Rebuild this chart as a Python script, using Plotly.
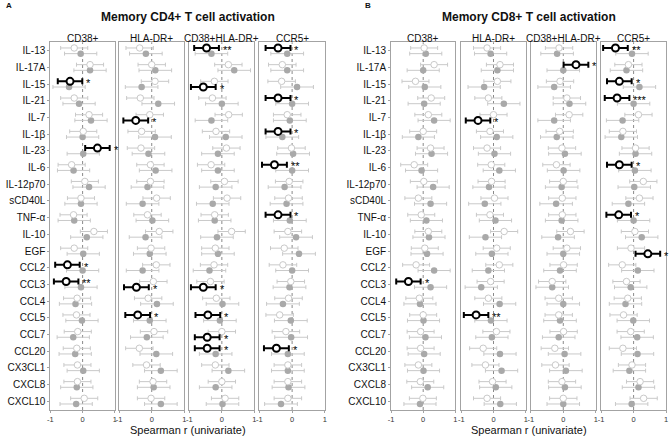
import plotly.graph_objects as go

W, H = 669, 437

cytokines = ["IL-13", "IL-17A", "IL-15", "IL-21", "IL-7", "IL-1β", "IL-23", "IL-6", "IL-12p70",
             "sCD40L", "TNF-α", "IL-10", "EGF", "CCL2", "CCL3", "CCL4", "CCL5", "CCL7", "CCL20",
             "CX3CL1", "CXCL8", "CXCL10"]
columns = ["CD38+", "HLA-DR+", "CD38+HLA-DR+", "CCR5+"]
panel_titles = ["Memory CD4+ T cell activation", "Memory CD8+ T cell activation"]
panel_letters = ["A", "B"]
x_title = "Spearman r (univariate)"

# Panel A (CD4+) : open = first series, filled = second series
A_CD38_open = [-0.26, 0.23, -0.39, -0.26, 0.20, 0.02, 0.46, -0.34, 0.07, -0.05, -0.28, 0.35, -0.26, -0.47, -0.51, -0.17, -0.19, -0.15, -0.18, -0.16, -0.16, 0.05]
A_CD38_filled = [-0.06, 0.23, -0.42, -0.11, 0.26, 0.00, 0.02, -0.28, 0.20, -0.05, -0.26, 0.13, 0.02, 0.00, -0.05, -0.22, -0.02, -0.29, -0.23, 0.02, -0.18, -0.20]
A_HLA_open = [-0.37, 0.00, 0.10, -0.35, -0.06, -0.31, -0.33, -0.04, -0.04, 0.15, -0.13, 0.23, -0.02, 0.14, 0.05, -0.11, -0.43, 0.07, -0.38, -0.16, 0.04, -0.02]
A_HLA_filled = [-0.18, 0.11, -0.31, 0.20, -0.49, 0.10, -0.10, 0.12, -0.13, -0.28, 0.02, -0.19, -0.06, -0.28, -0.47, 0.16, -0.06, -0.15, 0.14, 0.28, 0.06, 0.28]
A_DP_open = [-0.47, 0.20, -0.23, -0.29, 0.21, -0.18, 0.14, -0.33, 0.08, 0.16, -0.22, 0.30, -0.20, -0.24, -0.35, -0.17, -0.43, 0.00, -0.45, -0.20, 0.00, 0.10]
A_DP_filled = [-0.32, 0.38, -0.57, 0.00, -0.32, 0.12, -0.12, -0.12, -0.19, -0.28, -0.22, -0.15, -0.12, -0.38, -0.57, 0.02, -0.06, -0.45, -0.19, 0.20, -0.19, 0.02]
A_CCR5_open = [-0.43, -0.30, -0.32, -0.43, -0.15, -0.43, -0.02, -0.54, -0.09, -0.11, -0.43, -0.13, -0.24, -0.28, -0.04, -0.11, -0.38, -0.19, -0.48, -0.13, -0.13, -0.13]
A_CCR5_filled = [-0.15, -0.15, 0.15, 0.00, -0.07, -0.30, 0.03, 0.00, -0.23, -0.17, -0.07, 0.12, 0.21, 0.00, -0.08, -0.28, -0.04, -0.03, -0.13, -0.13, -0.11, -0.34]

# Panel B (CD8+)
B_CD38_open = [0.03, 0.34, -0.24, 0.25, 0.16, 0.00, 0.23, -0.28, 0.02, -0.15, -0.06, 0.16, 0.05, -0.22, -0.46, -0.12, 0.00, -0.08, -0.08, -0.15, -0.09, -0.01]
B_CD38_filled = [0.08, 0.00, 0.05, 0.03, 0.34, -0.15, 0.26, -0.05, 0.31, 0.23, 0.10, 0.18, 0.12, 0.34, 0.23, -0.10, 0.01, 0.07, 0.03, 0.01, 0.14, -0.10]
B_HLA_open = [-0.20, 0.20, 0.12, -0.16, 0.00, -0.11, -0.20, -0.07, -0.06, 0.03, -0.11, 0.33, 0.10, 0.18, -0.09, -0.16, -0.54, 0.09, -0.32, -0.25, -0.03, -0.20]
B_HLA_filled = [-0.09, 0.12, -0.29, 0.32, -0.48, 0.10, 0.03, 0.18, -0.14, -0.27, 0.06, -0.25, -0.05, -0.16, -0.38, 0.19, -0.08, -0.05, 0.20, 0.25, 0.07, 0.21]
B_DP_open = [-0.13, 0.39, -0.10, 0.11, 0.18, -0.11, -0.04, -0.21, 0.00, -0.03, -0.03, 0.22, 0.11, 0.01, -0.34, -0.14, -0.14, 0.01, -0.26, -0.24, -0.04, 0.00]
B_DP_filled = [-0.19, 0.00, -0.28, 0.19, -0.28, -0.20, 0.05, 0.01, -0.05, -0.22, -0.05, -0.16, 0.00, -0.10, -0.34, 0.00, -0.10, -0.14, 0.04, 0.08, 0.05, 0.00]
B_CCR5_open = [-0.56, -0.16, -0.44, -0.51, 0.15, -0.33, 0.06, -0.44, 0.30, 0.18, -0.46, 0.04, -0.08, -0.35, -0.22, -0.18, -0.31, -0.09, -0.33, -0.05, 0.20, 0.31]
B_CCR5_filled = [-0.05, -0.22, 0.18, 0.00, -0.34, -0.38, 0.06, 0.04, 0.02, -0.16, 0.00, 0.25, 0.44, 0.13, -0.09, -0.25, -0.01, 0.11, 0.12, -0.13, 0.15, -0.06]

# 95% CI half-widths (approximate)
ERR_OPEN = 0.42
ERR_FILLED = 0.50
ERR_BOLD = 0.38

# significant results: (cytokine, series, stars)
A_sig = [
    [("IL-15", "o", "*"), ("IL-23", "o", "*"), ("CCL2", "o", "*"), ("CCL3", "o", "**")],
    [("IL-7", "f", "*"), ("CCL3", "f", "*"), ("CCL5", "o", "*")],
    [("IL-13", "o", "**"), ("IL-15", "f", "*"), ("CCL3", "f", "*"), ("CCL5", "o", "*"),
     ("CCL7", "f", "*"), ("CCL20", "o", "*")],
    [("IL-13", "o", "*"), ("IL-21", "o", "*"), ("IL-1β", "o", "*"), ("IL-6", "o", "**"),
     ("TNF-α", "o", "*"), ("CCL20", "o", "*")],
]
B_sig = [
    [("CCL3", "o", "*")],
    [("IL-7", "f", "*"), ("CCL5", "o", "**")],
    [("IL-17A", "o", "*")],
    [("IL-13", "o", "**"), ("IL-15", "o", "*"), ("IL-21", "o", "***"), ("IL-6", "o", "*"),
     ("TNF-α", "o", "*"), ("EGF", "f", "*")],
]

data = [
    [(A_CD38_open, A_CD38_filled), (A_HLA_open, A_HLA_filled), (A_DP_open, A_DP_filled), (A_CCR5_open, A_CCR5_filled)],
    [(B_CD38_open, B_CD38_filled), (B_HLA_open, B_HLA_filled), (B_DP_open, B_DP_filled), (B_CCR5_open, B_CCR5_filled)],
]
sigs = [A_sig, B_sig]

# layout geometry (pixels)
x_boxes = [
    [(47.7, 112.7), (117.0, 182.7), (187.7, 253.3), (258.3, 324.3)],
    [(391.0, 455.7), (461.7, 526.7), (531.7, 597.3), (602.7, 668.0)],
]
y_top, y_bot = 42.3, 410.0
ydom = [1 - y_bot / H, 1 - y_top / H]
OFF = 0.17

LIGHT = "#c9c9c9"
FILL = "#a9a9a9"
FONT = "Liberation Sans, Arial, sans-serif"

fig = go.Figure()
layout = {}
annotations = []
shapes = []
ypos = list(range(len(cytokines)))

k = 0
for p in range(2):
    for c in range(4):
        k += 1
        xa = "x" if k == 1 else f"x{k}"
        ya = "y" if k == 1 else f"y{k}"
        open_v, fill_v = data[p][c]
        sig = sigs[p][c]
        sig_map = {(name, s): st for name, s, st in sig}
        o_x = [None if (cytokines[i], "o") in sig_map else v for i, v in enumerate(open_v)]
        f_x = [None if (cytokines[i], "f") in sig_map else v for i, v in enumerate(fill_v)]
        yo = [i - OFF for i in ypos]
        yf = [i + OFF for i in ypos]
        fig.add_trace(go.Scatter(
            x=f_x, y=yf, mode="markers", xaxis=xa, yaxis=ya, showlegend=False,
            marker=dict(size=6.5, color=FILL, line=dict(width=0)),
            error_x=dict(type="constant", value=ERR_FILLED, color=LIGHT, thickness=1, width=2)))
        fig.add_trace(go.Scatter(
            x=o_x, y=yo, mode="markers", xaxis=xa, yaxis=ya, showlegend=False,
            marker=dict(size=6.5, color="white", line=dict(width=1, color=LIGHT)),
            error_x=dict(type="constant", value=ERR_OPEN, color=LIGHT, thickness=1, width=2)))
        bx, by = [], []
        for name, s, st in sig:
            i = cytokines.index(name)
            val = open_v[i] if s == "o" else fill_v[i]
            yy = i - OFF if s == "o" else i + OFF
            bx.append(val)
            by.append(yy)
            annotations.append(dict(x=min(val + ERR_BOLD + 0.06, 0.9), y=yy + 0.1, xref=xa, yref=ya, text=st,
                                    showarrow=False, xanchor="left", yanchor="middle",
                                    font=dict(size=11, color="black", family=FONT)))
        fig.add_trace(go.Scatter(
            x=bx, y=by, mode="markers", xaxis=xa, yaxis=ya, showlegend=False,
            marker=dict(size=7, color="white", line=dict(width=2, color="black")),
            error_x=dict(type="constant", value=ERR_BOLD, color="black", thickness=2, width=3)))

        x0, x1 = x_boxes[p][c]
        layout["xaxis" if k == 1 else f"xaxis{k}"] = dict(
            domain=[x0 / W, x1 / W], anchor=ya, range=[-1, 1], tickvals=[-1, 0, 1],
            ticktext=["-1", "0", "1"], showgrid=False, zeroline=False, showline=True,
            mirror=True, linecolor="#a3a3a3", linewidth=1, ticks="outside", ticklen=2,
            tickcolor="#a3a3a3", tickfont=dict(size=7.5, color="#333", family=FONT))
        layout["yaxis" if k == 1 else f"yaxis{k}"] = dict(
            domain=ydom, anchor=xa, range=[len(cytokines) - 0.47, -0.51], tickvals=ypos,
            ticktext=cytokines, showticklabels=(c == 0), showgrid=False, zeroline=False,
            showline=True, mirror=True, linecolor="#a3a3a3", linewidth=1,
            ticks="outside" if c == 0 else "", ticklen=2, tickcolor="#a3a3a3",
            tickfont=dict(size=10, color="#111", family=FONT))
        shapes.append(dict(type="line", xref=xa, yref=f"{ya} domain", x0=0, x1=0, y0=0, y1=1,
                           line=dict(color="#8a8a8a", width=1, dash="dot"), layer="below"))
        annotations.append(dict(x=(x0 + x1) / 2 / W, y=1 - 38.5 / H, xref="paper", yref="paper",
                                text=columns[c], showarrow=False, xanchor="center", yanchor="middle",
                                font=dict(size=10, color="#111", family=FONT)))
    # panel-level texts
    px0 = x_boxes[p][0][0]
    px1 = x_boxes[p][3][1]
    cx = (px0 + px1) / 2
    annotations.append(dict(x=cx / W, y=1 - 17 / H, xref="paper", yref="paper",
                            text=f"<b>{panel_titles[p]}</b>", showarrow=False,
                            xanchor="center", yanchor="middle",
                            font=dict(size=12, color="#111", family=FONT)))
    annotations.append(dict(x=cx / W, y=1 - 429.5 / H, xref="paper", yref="paper",
                            text=x_title, showarrow=False, xanchor="center", yanchor="middle",
                            font=dict(size=11, color="#111", family=FONT)))
    annotations.append(dict(x=(1 if p == 0 else 363) / W, y=1 - 6 / H, xref="paper", yref="paper",
                            text=f"<b>{panel_letters[p]}</b>", showarrow=False,
                            xanchor="left", yanchor="middle",
                            font=dict(size=8, color="#111", family=FONT)))

fig.update_layout(
    width=W, height=H, margin=dict(l=0, r=0, t=0, b=0),
    paper_bgcolor="white", plot_bgcolor="white", hovermode=False,
    annotations=annotations, shapes=shapes, font=dict(family=FONT), **layout)

fig.write_html("out.html", config={"displayModeBar": False, "staticPlot": True},
               post_script="document.body.style.margin='0';document.body.style.overflow='hidden';")
